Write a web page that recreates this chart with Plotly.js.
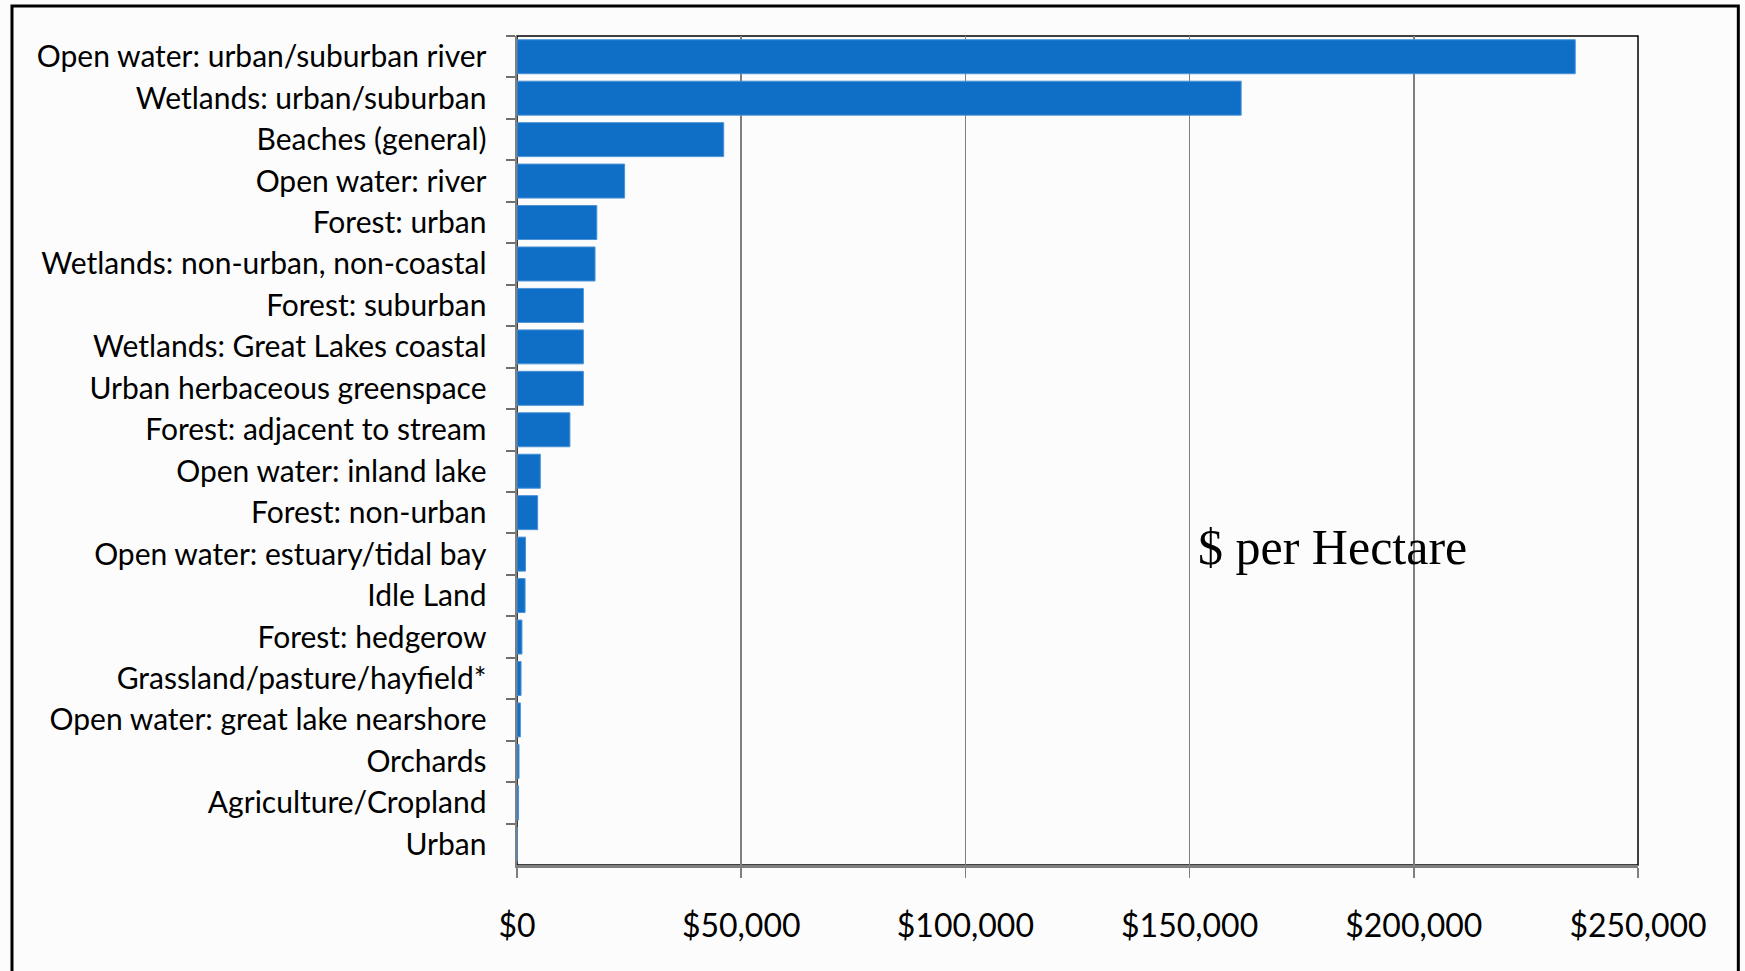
<!DOCTYPE html>
<html>
<head>
<meta charset="utf-8">
<script src="https://cdn.plot.ly/plotly-3.0.1.min.js"></script>
<style>
  html, body { margin: 0; padding: 0; background: #fcfcfc; }
  #chart { width: 1745px; height: 971px; }
</style>
</head>
<body>
<div id="chart"></div>
<script>
const categories = [
  "Open water: urban/suburban river",
  "Wetlands: urban/suburban",
  "Beaches (general)",
  "Open water: river",
  "Forest: urban",
  "Wetlands: non-urban, non-coastal",
  "Forest: suburban",
  "Wetlands: Great Lakes coastal",
  "Urban herbaceous greenspace",
  "Forest: adjacent to stream",
  "Open water: inland lake",
  "Forest: non-urban",
  "Open water: estuary/tidal bay",
  "Idle Land",
  "Forest: hedgerow",
  "Grassland/pasture/hayfield*",
  "Open water: great lake nearshore",
  "Orchards",
  "Agriculture/Cropland",
  "Urban"
];
const valuesPerHectare = [
  236000, 161500, 46100, 24000, 17800, 17400, 14800, 14800, 14800, 11800,
  5200, 4600, 1900, 1800, 1100, 900, 750, 450, 350, 50
];
const xTickValues = [0, 50000, 100000, 150000, 200000, 250000];
const xTickLabels = ["$0", "$50,000", "$100,000", "$150,000", "$200,000", "$250,000"];
const unitLabel = "$ per Hectare";

const trace = {
  type: "bar",
  orientation: "h",
  y: categories,
  x: valuesPerHectare,
  marker: { color: "#0f6ec5", line: { color: "#4b92d6", width: 1 } },
  hoverinfo: "x+y"
};

const layout = {
  width: 1745,
  height: 971,
  margin: { l: 517, r: 107, t: 36, b: 106 },
  paper_bgcolor: "#fcfcfc",
  plot_bgcolor: "#fcfcfc",
  bargap: 0.18,
  showlegend: false,
  font: { family: "Lato, 'Open Sans', sans-serif", color: "#000" },
  xaxis: {
    range: [0, 250000],
    tickvals: xTickValues,
    ticktext: xTickLabels,
    showgrid: true,
    gridcolor: "#7f7f7f",
    gridwidth: 1.5,
    zeroline: false,
    showline: true,
    linecolor: "#7f7f7f",
    linewidth: 2.5,
    ticks: "outside",
    ticklen: 10,
    tickwidth: 1.5,
    tickcolor: "#7f7f7f",
    tickfont: { size: 32, family: "Lato, 'Open Sans', sans-serif", color: "#000" },
    ticklabelstandoff: 21,
    fixedrange: true
  },
  yaxis: {
    type: "category",
    categoryorder: "array",
    categoryarray: categories,
    autorange: "reversed",
    showgrid: false,
    zeroline: false,
    showline: true,
    linecolor: "#7f7f7f",
    linewidth: 2.5,
    ticks: "outside",
    tickson: "boundaries",
    ticklen: 9,
    tickwidth: 2,
    tickcolor: "#6f6f6f",
    ticklabelstandoff: 22,
    tickfont: { size: 30, family: "Lato, 'Open Sans', sans-serif", color: "#000" },
    fixedrange: true
  },
  shapes: [
    {
      type: "rect", xref: "paper", yref: "paper",
      x0: 0, x1: 1, y0: 0, y1: 1,
      line: { color: "#000", width: 1.5 },
      layer: "below"
    },
    {
      type: "rect", xref: "paper", yref: "paper",
      x0: -0.4505, x1: 1.0895, y0: -0.3, y1: 1.0362,
      line: { color: "#000", width: 3 }
    }
  ],
  annotations: [
    {
      xref: "paper", yref: "paper",
      x: 0.6057, y: 0.384,
      xanchor: "left", yanchor: "middle",
      text: unitLabel,
      showarrow: false,
      font: { family: "'Liberation Serif', 'DejaVu Serif', serif", size: 50, color: "#000" }
    }
  ]
};

Plotly.newPlot("chart", [trace], layout, { displayModeBar: false, staticPlot: true });
</script>
</body>
</html>
